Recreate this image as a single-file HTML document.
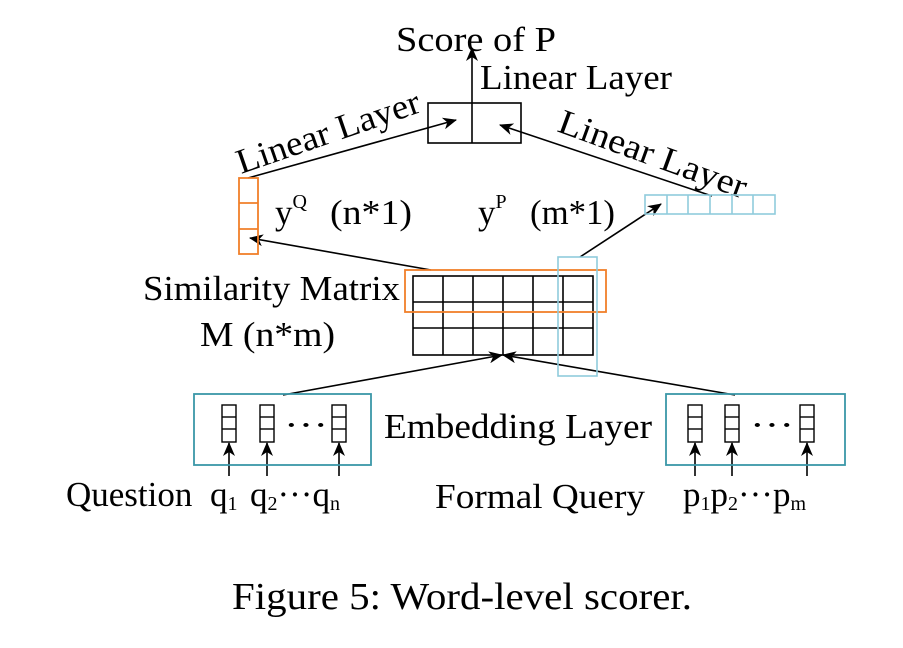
<!DOCTYPE html>
<html><head><meta charset="utf-8"><style>
html,body{margin:0;padding:0;background:#fff;}
svg{display:block;}
text{font-family:"Liberation Serif",serif;fill:#000;}
</style></head><body>
<svg width="903" height="648" viewBox="0 0 903 648" xmlns="http://www.w3.org/2000/svg">
<defs>
<marker id="a" markerWidth="14" markerHeight="12" refX="13" refY="6" orient="auto" markerUnits="userSpaceOnUse">
<path d="M0,0 L14,6 L0,12 L4,6 z" fill="#000"/></marker>
</defs>
<g font-size="35">
<text x="396" y="51" textLength="160" lengthAdjust="spacingAndGlyphs">Score of P</text>
<text x="480" y="89" textLength="192" lengthAdjust="spacingAndGlyphs">Linear Layer</text>
<text x="0" y="0" transform="translate(241,174) rotate(-19)" textLength="192" lengthAdjust="spacingAndGlyphs">Linear Layer</text>
<text x="0" y="0" transform="translate(556,131) rotate(20)" textLength="198" lengthAdjust="spacingAndGlyphs">Linear Layer</text>
<text x="275" y="224">y<tspan font-size="20" dy="-16">Q</tspan><tspan dy="16" x="330" textLength="82" lengthAdjust="spacingAndGlyphs">(n*1)</tspan></text>
<text x="478" y="224">y<tspan font-size="20" dy="-16">P</tspan><tspan dy="16" x="530" textLength="85" lengthAdjust="spacingAndGlyphs">(m*1)</tspan></text>
<text x="143" y="300" textLength="257" lengthAdjust="spacingAndGlyphs">Similarity Matrix</text>
<text x="200" y="346" textLength="135" lengthAdjust="spacingAndGlyphs">M (n*m)</text>
<text x="384" y="438" textLength="268" lengthAdjust="spacingAndGlyphs">Embedding Layer</text>
<text x="66" y="506">Question<tspan x="210">q</tspan><tspan font-size="20" dy="4">1</tspan><tspan dy="-4" x="250">q</tspan><tspan font-size="20" dy="4">2</tspan><tspan dy="-4">···q</tspan><tspan font-size="20" dy="4">n</tspan></text>
<text x="435" y="508" textLength="210" lengthAdjust="spacingAndGlyphs">Formal Query</text>
<text x="683" y="506">p<tspan font-size="20" dy="4">1</tspan><tspan dy="-4">p</tspan><tspan font-size="20" dy="4">2</tspan><tspan dy="-4">···p</tspan><tspan font-size="20" dy="4">m</tspan></text>
<text x="232" y="609" font-size="38" textLength="460" lengthAdjust="spacingAndGlyphs">Figure 5: Word-level scorer.</text>
</g>
<g stroke="#000" stroke-width="1.6" fill="none">
<rect x="428" y="103" width="93" height="40"/>
<line x1="472" y1="143" x2="472" y2="48" marker-end="url(#a)"/>
<line x1="248" y1="178" x2="456" y2="120" marker-end="url(#a)"/>
<line x1="712" y1="196" x2="500" y2="125" marker-end="url(#a)"/>
<line x1="431" y1="270" x2="250" y2="238" marker-end="url(#a)"/>
<line x1="580" y1="257" x2="661" y2="204" marker-end="url(#a)"/>
<line x1="283" y1="395" x2="502" y2="355" marker-end="url(#a)"/>
<line x1="735" y1="395" x2="503" y2="355" marker-end="url(#a)"/>
<rect x="413" y="276" width="180" height="79"/>
<line x1="443" y1="276" x2="443" y2="355"/><line x1="473" y1="276" x2="473" y2="355"/>
<line x1="503" y1="276" x2="503" y2="355"/><line x1="533" y1="276" x2="533" y2="355"/>
<line x1="563" y1="276" x2="563" y2="355"/>
<line x1="413" y1="302" x2="593" y2="302"/><line x1="413" y1="328" x2="593" y2="328"/>
<g stroke-width="1.4">
<rect x="222" y="405" width="14" height="37"/><line x1="222" y1="417" x2="236" y2="417"/><line x1="222" y1="429" x2="236" y2="429"/>
<rect x="260" y="405" width="14" height="37"/><line x1="260" y1="417" x2="274" y2="417"/><line x1="260" y1="429" x2="274" y2="429"/>
<rect x="332" y="405" width="14" height="37"/><line x1="332" y1="417" x2="346" y2="417"/><line x1="332" y1="429" x2="346" y2="429"/>
<rect x="688" y="405" width="14" height="37"/><line x1="688" y1="417" x2="702" y2="417"/><line x1="688" y1="429" x2="702" y2="429"/>
<rect x="725" y="405" width="14" height="37"/><line x1="725" y1="417" x2="739" y2="417"/><line x1="725" y1="429" x2="739" y2="429"/>
<rect x="800" y="405" width="14" height="37"/><line x1="800" y1="417" x2="814" y2="417"/><line x1="800" y1="429" x2="814" y2="429"/>
</g>
<line x1="229" y1="476" x2="229" y2="443" marker-end="url(#a)"/>
<line x1="267" y1="476" x2="267" y2="443" marker-end="url(#a)"/>
<line x1="339" y1="476" x2="339" y2="443" marker-end="url(#a)"/>
<line x1="695" y1="476" x2="695" y2="443" marker-end="url(#a)"/>
<line x1="732" y1="476" x2="732" y2="443" marker-end="url(#a)"/>
<line x1="807" y1="476" x2="807" y2="443" marker-end="url(#a)"/>
</g>
<g font-size="34"><text x="284" y="436" textLength="44" lengthAdjust="spacingAndGlyphs">···</text><text x="750" y="436" textLength="44" lengthAdjust="spacingAndGlyphs">···</text></g>
<g stroke="#3a97a8" stroke-width="1.8" fill="none">
<rect x="194" y="394" width="177" height="71"/>
<rect x="666" y="394" width="179" height="71"/>
</g>
<g stroke="#f07f2a" stroke-width="1.8" fill="none">
<rect x="239" y="178" width="19" height="76"/>
<line x1="239" y1="203" x2="258" y2="203"/><line x1="239" y1="229" x2="258" y2="229"/>
<rect x="405" y="270" width="201" height="42"/>
</g>
<g stroke="#8fcbdc" stroke-width="1.6" fill="none">
<rect x="645" y="195" width="130" height="19"/>
<line x1="667" y1="195" x2="667" y2="214"/><line x1="688" y1="195" x2="688" y2="214"/>
<line x1="710" y1="195" x2="710" y2="214"/><line x1="732" y1="195" x2="732" y2="214"/>
<line x1="753" y1="195" x2="753" y2="214"/>
<rect x="558" y="257" width="39" height="119"/>
</g>
</svg>
</body></html>
